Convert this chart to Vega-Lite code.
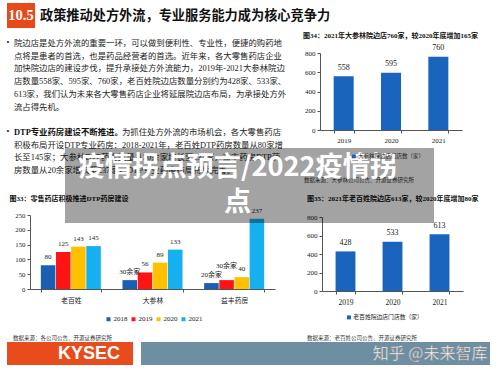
{
  "$schema": "https://vega.github.io/schema/vega-lite/v6.json",
  "width": 500,
  "height": 375,
  "autosize": {"type": "none"},
  "padding": 0,
  "background": "#ffffff",
  "config": {
    "view": {"stroke": null},
    "axis": {"labelFont": "Liberation Serif, Noto Sans CJK SC", "labelColor": "#1a1a1a", "labelFontSize": 7, "domainColor": "#555555", "tickColor": "#555555", "tickSize": 3, "grid": false, "labelFlush": false},
    "legend": {"labelFont": "Liberation Serif, Noto Sans CJK SC", "labelColor": "#1a1a1a", "padding": 0, "symbolType": "square", "symbolStrokeWidth": 0, "labelOffset": 1.5, "columnPadding": 2}
  },
  "datasets": {
    "header": [{"code": "10.5", "title": "政策推动处方外流，专业服务能力成为核心竞争力"}],
    "para": [
      {"line": 1, "part": "bullet", "text": "•"},
      {"line": 1, "part": "text", "text": "院边店是处方外流的重要一环，可以做到便利性、专业性，便捷的购药地"},
      {"line": 2, "part": "text", "text": "点将是患者的首选，也是药品经营者的首选。近年来，各大零售药店企业"},
      {"line": 3, "part": "text", "text": "加快院边店的建设步伐，提升承接处方外流能力，2019年-2021大参林院边"},
      {"line": 4, "part": "text", "text": "店数量558家、595家、760家，老百姓院边店数量分别约为428家、533家、"},
      {"line": 5, "part": "text", "text": "613家，我们认为未来各大零售药店企业将延展院边店布局，为承接处方外"},
      {"line": 6, "part": "text", "text": "流占得先机。"},
      {"line": 8, "part": "bullet", "text": "•"},
      {"line": 8, "part": "lead", "text": "DTP专业药房建设不断推进。"},
      {"line": 8, "part": "after", "text": "为抓住处方外流的市场机会，各大零售药店"},
      {"line": 9, "part": "text", "text": "积极布局开设DTP专业药房：2018-2021年，老百姓DTP药房数量从80家增"},
      {"line": 10, "part": "text", "text": "长至145家；大参林DTP药房数量从30余家增长至133家，益丰药房DTP药"},
      {"line": 11, "part": "text", "text": "房数量从20余家增长至237家，DTP专业药房布局持续完善。"}
    ],
    "dtp": [
      {"company": "老百姓", "year": "2018", "value": 80, "label": "80"},
      {"company": "老百姓", "year": "2019", "value": 125, "label": "125"},
      {"company": "老百姓", "year": "2020", "value": 143, "label": "143"},
      {"company": "老百姓", "year": "2021", "value": 145, "label": "145"},
      {"company": "大参林", "year": "2018", "value": 30, "label": "30余家"},
      {"company": "大参林", "year": "2019", "value": 56, "label": "56"},
      {"company": "大参林", "year": "2020", "value": 89, "label": "89"},
      {"company": "大参林", "year": "2021", "value": 133, "label": "133"},
      {"company": "益丰药房", "year": "2018", "value": 20, "label": "20余家"},
      {"company": "益丰药房", "year": "2019", "value": 30, "label": "30余家"},
      {"company": "益丰药房", "year": "2020", "value": 40, "label": "40"},
      {"company": "益丰药房", "year": "2021", "value": 237, "label": "237"}
    ],
    "dsl": [
      {"year": "2019", "value": 558, "series": "大参林院边店门店数（家）"},
      {"year": "2020", "value": 595, "series": "大参林院边店门店数（家）"},
      {"year": "2021", "value": 760, "series": "大参林院边店门店数（家）"}
    ],
    "lbx": [
      {"year": "2019", "value": 428, "series": "老百姓院边店门店数（家）"},
      {"year": "2020", "value": 533, "series": "老百姓院边店门店数（家）"},
      {"year": "2021", "value": 613, "series": "老百姓院边店门店数（家）"}
    ]
  },
  "layer": [
    {
      "data": {"name": "header"},
      "encoding": {
        "x": {"field": "code", "type": "nominal", "scale": {"type": "band", "range": [7, 35], "paddingInner": 0, "paddingOuter": 0}, "axis": null},
        "y": {"field": "code", "type": "nominal", "scale": {"type": "band", "range": [3, 28], "paddingInner": 0, "paddingOuter": 0}, "axis": null}
      },
      "layer": [
        {"mark": {"type": "rect", "color": "#e64a19"}},
        {"mark": {"type": "text", "color": "#ffffff", "font": "Liberation Serif", "fontWeight": "bold", "fontSize": 14.5, "baseline": "middle"}, "encoding": {"text": {"field": "code"}}}
      ]
    },
    {
      "data": {"name": "header"},
      "mark": {"type": "text", "align": "left", "baseline": "middle", "font": "Noto Sans CJK SC", "fontWeight": "bold", "fontSize": 13.2, "color": "#111111"},
      "encoding": {
        "text": {"field": "title"},
        "x": {"field": "title", "type": "nominal", "scale": {"type": "point", "range": [40, 40]}, "axis": null},
        "y": {"field": "title", "type": "nominal", "scale": {"type": "point", "range": [15.5, 15.5]}, "axis": null}
      }
    },
    {
      "data": {"name": "para"},
      "encoding": {
        "x": {"datum": "p", "type": "nominal", "scale": {"type": "point", "range": [8, 8]}, "axis": null},
        "y": {"field": "line", "type": "ordinal", "scale": {"type": "point", "domain": [1, 2, 3, 4, 5, 6, 7, 8, 9, 10, 11], "range": [43, 170], "padding": 0}, "axis": null},
        "text": {"field": "text"}
      },
      "layer": [
        {"transform": [{"filter": "datum.part === 'bullet'"}], "mark": {"type": "text", "align": "center", "baseline": "middle", "font": "Liberation Serif", "fontSize": 8, "color": "#222222"}},
        {"transform": [{"filter": "datum.part === 'text'"}], "mark": {"type": "text", "align": "left", "baseline": "middle", "dx": 6, "font": "Liberation Serif, Noto Sans CJK SC", "fontSize": 8.4, "color": "#222222"}},
        {"transform": [{"filter": "datum.part === 'lead'"}], "mark": {"type": "text", "align": "left", "baseline": "middle", "dx": 6, "font": "Liberation Serif, Noto Sans CJK SC", "fontWeight": "bold", "fontSize": 8.4, "color": "#111111"}},
        {"transform": [{"filter": "datum.part === 'after'"}], "mark": {"type": "text", "align": "left", "baseline": "middle", "dx": 114, "font": "Liberation Serif, Noto Sans CJK SC", "fontSize": 8.4, "color": "#222222"}}
      ]
    },
    {
      "data": {"values": [{"caption": "图34：2021年大参林院边店760家，较2020年底增加165家"}]},
      "mark": {"type": "text", "align": "left", "baseline": "middle", "font": "Liberation Serif, Noto Sans CJK SC", "fontWeight": "bold", "fontSize": 7, "color": "#111111"},
      "encoding": {
        "text": {"field": "caption"},
        "x": {"field": "caption", "type": "nominal", "scale": {"type": "point", "range": [303, 303]}, "axis": null},
        "y": {"field": "caption", "type": "nominal", "scale": {"type": "point", "range": [35.5, 35.5]}, "axis": null}
      }
    },
    {
      "data": {"values": [{"caption": "数据来源：大参林公司公告、开源证券研究所"}]},
      "mark": {"type": "text", "align": "left", "baseline": "middle", "font": "Noto Sans CJK SC", "fontSize": 5.5, "color": "#333333"},
      "encoding": {
        "text": {"field": "caption"},
        "x": {"field": "caption", "type": "nominal", "scale": {"type": "point", "range": [304, 304]}, "axis": null},
        "y": {"field": "caption", "type": "nominal", "scale": {"type": "point", "range": [180, 180]}, "axis": null}
      }
    },
    {
      "data": {"values": [{"caption": "图33：零售药店积极推进DTP药房建设"}]},
      "mark": {"type": "text", "align": "left", "baseline": "middle", "font": "Liberation Serif, Noto Sans CJK SC", "fontWeight": "bold", "fontSize": 7, "color": "#111111"},
      "encoding": {
        "text": {"field": "caption"},
        "x": {"field": "caption", "type": "nominal", "scale": {"type": "point", "range": [9.5, 9.5]}, "axis": null},
        "y": {"field": "caption", "type": "nominal", "scale": {"type": "point", "range": [199, 199]}, "axis": null}
      }
    },
    {
      "data": {"values": [{"caption": "数据来源：各公司公告、开源证券研究所"}]},
      "mark": {"type": "text", "align": "left", "baseline": "middle", "font": "Noto Sans CJK SC", "fontSize": 5.5, "color": "#333333"},
      "encoding": {
        "text": {"field": "caption"},
        "x": {"field": "caption", "type": "nominal", "scale": {"type": "point", "range": [13, 13]}, "axis": null},
        "y": {"field": "caption", "type": "nominal", "scale": {"type": "point", "range": [337.5, 337.5]}, "axis": null}
      }
    },
    {
      "data": {"values": [{"caption": "图35：2021年老百姓院边店613家，较2020年底增加80家"}]},
      "mark": {"type": "text", "align": "left", "baseline": "middle", "font": "Liberation Serif, Noto Sans CJK SC", "fontWeight": "bold", "fontSize": 7, "color": "#111111"},
      "encoding": {
        "text": {"field": "caption"},
        "x": {"field": "caption", "type": "nominal", "scale": {"type": "point", "range": [307, 307]}, "axis": null},
        "y": {"field": "caption", "type": "nominal", "scale": {"type": "point", "range": [199, 199]}, "axis": null}
      }
    },
    {
      "data": {"values": [{"caption": "数据来源：老百姓公司公告、开源证券研究所"}]},
      "mark": {"type": "text", "align": "left", "baseline": "middle", "font": "Noto Sans CJK SC", "fontSize": 5.5, "color": "#333333"},
      "encoding": {
        "text": {"field": "caption"},
        "x": {"field": "caption", "type": "nominal", "scale": {"type": "point", "range": [307, 307]}, "axis": null},
        "y": {"field": "caption", "type": "nominal", "scale": {"type": "point", "range": [337.5, 337.5]}, "axis": null}
      }
    },
    {
      "data": {"name": "dtp"},
      "encoding": {
        "x": {"field": "company", "type": "nominal", "scale": {"domain": ["老百姓", "大参林", "益丰药房"], "range": [30, 275], "paddingInner": 0.265, "paddingOuter": 0.1325}, "axis": {"orient": "bottom", "offset": -86, "title": null, "labelAngle": 0, "tickBand": "extent", "labelPadding": 5, "labelFont": "Noto Sans CJK SC", "labelFontSize": 6.8}},
        "xOffset": {"field": "year", "type": "nominal", "scale": {"domain": ["2018", "2019", "2020", "2021"], "paddingInner": 0.04, "paddingOuter": 0}},
        "y": {"field": "value", "type": "quantitative", "scale": {"domain": [0, 250], "range": [289, 215], "nice": false}, "axis": {"orient": "left", "offset": -30, "title": null, "values": [0, 50, 100, 150, 200, 250], "labelPadding": 2, "labelFontSize": 6.8}}
      },
      "layer": [
        {"mark": {"type": "bar"}, "encoding": {"color": {"field": "year", "type": "nominal", "scale": {"domain": ["2018", "2019", "2020", "2021"], "range": ["#1a5fb4", "#ff1414", "#ffc000", "#16b0f0"]}, "legend": {"orient": "none", "legendX": 105, "legendY": 315.5, "direction": "horizontal", "title": null, "labelFontSize": 7, "symbolSize": 16}}}},
        {"transform": [{"filter": "!(datum.company === '益丰药房' && datum.year === '2019')"}], "mark": {"type": "text", "baseline": "middle", "dy": -8, "font": "Liberation Serif, Noto Sans CJK SC", "fontSize": 7, "color": "#222222"}, "encoding": {"text": {"field": "label"}}},
        {"transform": [{"filter": "datum.company === '益丰药房' && datum.year === '2019'"}], "mark": {"type": "text", "baseline": "middle", "dy": -14, "font": "Liberation Serif, Noto Sans CJK SC", "fontSize": 7, "color": "#222222"}, "encoding": {"text": {"field": "label"}}}
      ]
    },
    {
      "data": {"name": "dsl"},
      "encoding": {
        "x": {"field": "year", "type": "ordinal", "scale": {"range": [320, 462], "paddingInner": 0.577, "paddingOuter": 0.2885}, "axis": {"orient": "bottom", "offset": -245, "title": null, "labelAngle": 0, "tickBand": "extent", "labelPadding": 3, "labelFontSize": 7}},
        "y": {"field": "value", "type": "quantitative", "scale": {"domain": [0, 800], "range": [130, 53], "nice": false}, "axis": {"orient": "left", "offset": -320, "title": null, "values": [0, 200, 400, 600, 800], "labelPadding": 2}}
      },
      "layer": [
        {"mark": {"type": "bar"}, "encoding": {"color": {"field": "series", "type": "nominal", "scale": {"range": ["#1b64be"]}, "legend": {"orient": "none", "legendX": 351, "legendY": 153.5, "title": null, "labelFont": "Noto Sans CJK SC", "labelFontSize": 5.5, "symbolSize": 16}}}},
        {"mark": {"type": "text", "baseline": "middle", "dy": -8.5, "font": "Liberation Serif", "fontSize": 8, "color": "#222222"}, "encoding": {"text": {"field": "value"}}}
      ]
    },
    {
      "data": {"name": "lbx"},
      "encoding": {
        "x": {"field": "year", "type": "ordinal", "scale": {"range": [322, 463], "paddingInner": 0.577, "paddingOuter": 0.2885}, "axis": {"orient": "bottom", "offset": -84, "title": null, "labelAngle": 0, "tickBand": "extent", "labelPadding": 4, "labelFontSize": 7.5}},
        "y": {"field": "value", "type": "quantitative", "scale": {"domain": [0, 800], "range": [291, 217], "nice": false}, "axis": {"orient": "left", "offset": -322, "title": null, "values": [0, 200, 400, 600, 800], "labelPadding": 2}}
      },
      "layer": [
        {"mark": {"type": "bar"}, "encoding": {"color": {"field": "series", "type": "nominal", "scale": {"range": ["#1b64be"]}, "legend": {"orient": "none", "legendX": 346, "legendY": 314.5, "title": null, "labelFont": "Noto Sans CJK SC", "labelFontSize": 5.8, "symbolSize": 16}}}},
        {"mark": {"type": "text", "baseline": "middle", "dy": -8.5, "font": "Liberation Serif", "fontSize": 8, "color": "#222222"}, "encoding": {"text": {"field": "value"}}}
      ]
    },
    {
      "data": {"values": [{"brand": "KYSEC"}]},
      "encoding": {
        "x": {"field": "brand", "type": "nominal", "scale": {"type": "band", "range": [7, 133], "paddingInner": 0, "paddingOuter": 0}, "axis": null},
        "y": {"field": "brand", "type": "nominal", "scale": {"type": "band", "range": [342, 365], "paddingInner": 0, "paddingOuter": 0}, "axis": null}
      },
      "layer": [
        {"mark": {"type": "rect", "color": "#e84c1c"}},
        {"mark": {"type": "text", "color": "#ffffff", "font": "Liberation Sans", "fontWeight": "bold", "fontSize": 18, "baseline": "middle", "dx": 19}, "encoding": {"text": {"field": "brand"}}}
      ]
    },
    {
      "data": {"values": [{"watermark": "知乎 @未来智库"}]},
      "encoding": {
        "x": {"field": "watermark", "type": "nominal", "scale": {"type": "band", "range": [141, 490], "paddingInner": 0, "paddingOuter": 0}, "axis": null},
        "y": {"field": "watermark", "type": "nominal", "scale": {"type": "band", "range": [342, 365], "paddingInner": 0, "paddingOuter": 0}, "axis": null}
      },
      "layer": [
        {"mark": {"type": "rect", "color": "#6e8ea2"}},
        {"mark": {"type": "text", "color": "#f4f4f4", "font": "Noto Sans CJK SC", "fontSize": 16, "align": "right", "baseline": "middle", "dx": 172, "stroke": "#8a8a8a", "strokeWidth": 0.4}, "encoding": {"text": {"field": "watermark"}}}
      ]
    },
    {
      "data": {"values": [{"headline": "疫情拐点预言/2022疫情拐\n点"}]},
      "encoding": {
        "x": {"field": "headline", "type": "nominal", "scale": {"type": "band", "range": [65, 434], "paddingInner": 0, "paddingOuter": 0}, "axis": null},
        "y": {"field": "headline", "type": "nominal", "scale": {"type": "band", "range": [148, 223], "paddingInner": 0, "paddingOuter": 0}, "axis": null}
      },
      "layer": [
        {"mark": {"type": "rect", "color": "#000000", "opacity": 0.36}},
        {"mark": {"type": "text", "color": "#ffffff", "font": "Noto Sans CJK SC", "fontWeight": "bold", "fontSize": 27.2, "lineBreak": "\n", "lineHeight": 35, "baseline": "middle", "dx": -12, "dy": -17.5}, "encoding": {"text": {"field": "headline"}}}
      ]
    }
  ],
  "resolve": {
    "scale": {"x": "independent", "y": "independent", "color": "independent"},
    "axis": {"x": "independent", "y": "independent"},
    "legend": {"color": "independent"}
  }
}
